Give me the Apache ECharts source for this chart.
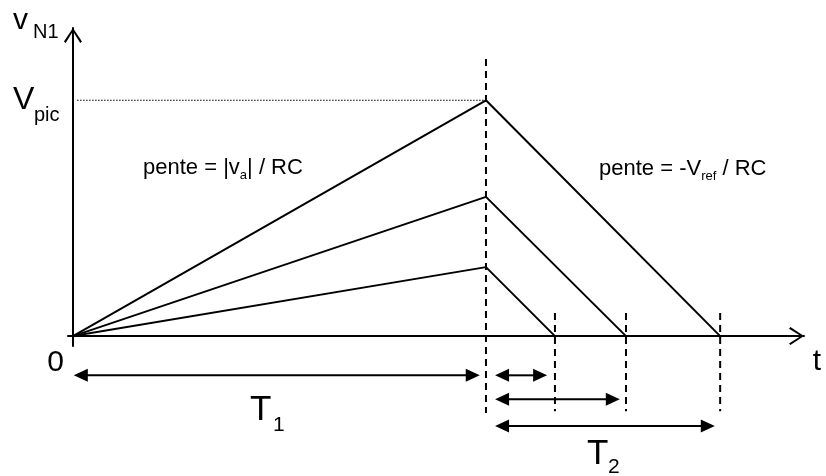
<!DOCTYPE html>
<html>
<head>
<meta charset="utf-8">
<title>v_N1 - double rampe</title>
<script src="https://cdn.jsdelivr.net/npm/echarts@6/dist/echarts.min.js"></script>
<style>
  html, body { margin: 0; padding: 0; background: #fff; }
  #doubleRamp { width: 826px; height: 476px; }
</style>
</head>
<body>
<div id="doubleRamp"></div>
<script>
// time unit: T1 = 10 (same scale on both axes, so the discharge slope is -1)
const T1 = 10;
const peakValues = [1.67, 3.37, 5.71];        // v_N1 reached at t = T1
const dischargeEnds = [11.67, 13.39, 15.67];  // t where v_N1 is back to 0
const vPic = 5.71;
const vPicGuideStart = 0.1;

// dashed guides [bottom, top]
const t1GuideSpan = [-1.86, 6.71];
const endGuideSpan = [-1.82, 0.56];

// double arrows under the time axis
const arrowFrom = [0.02, 10.22, 10.22, 10.22];
const arrowTo = [9.85, 11.48, 13.24, 15.54];
const arrowLevel = [-0.95, -0.95, -1.53, -2.18];

const FONT = "'Liberation Sans', Arial, sans-serif";
const openArrow =
  "path://M9,0 L18,13.6 L16.3,15 L9,3.2 L1.7,15 L0,13.6 Z M8,1 L10,1 L10,15 L8,15 Z";

const chartDom = document.getElementById("doubleRamp");
const chart = echarts.init(chartDom);

const axisCommon = {
  type: "value",
  axisLine: {
    show: true,
    onZero: true,
    symbol: ["none", openArrow],
    symbolSize: [18, 15],
    symbolOffset: [0, -7.5],
    lineStyle: { color: "#000", width: 2 },
  },
  axisTick: { show: false },
  axisLabel: { show: false },
  splitLine: { show: false },
};

const rampSeries = peakValues.map((peak, i) => ({
  type: "line",
  symbol: "none",
  silent: true,
  lineStyle: { color: "#000", width: 2 },
  data: [
    [0, 0],
    [T1, peak],
    [dischargeEnds[i], 0],
  ],
}));

const dashedGuide = (x, span) => ({
  type: "line",
  symbol: "none",
  silent: true,
  clip: false,
  lineStyle: { color: "#000", width: 2, type: [7, 5] },
  data: [
    [x, span[1]],
    [x, span[0]],
  ],
});

const text = (str, x, y, size, align) => ({
  type: "text",
  style: {
    x: x,
    y: y,
    text: str,
    fontSize: size,
    fontFamily: FONT,
    fill: "#000",
    align: align || "left",
    verticalAlign: "middle",
  },
});

const richText = (str, x, y, size, subSize) => ({
  type: "text",
  style: {
    x: x,
    y: y,
    text: str,
    fill: "#000",
    align: "left",
    verticalAlign: "bottom",
    rich: {
      m: { fontSize: size, fontFamily: FONT, fill: "#000", verticalAlign: "bottom", padding: [0, 0, 3, 0] },
      s: { fontSize: subSize, fontFamily: FONT, fill: "#000", verticalAlign: "bottom" },
    },
  },
});

const option = {
  animation: false,
  backgroundColor: "#fff",
  grid: { left: 68, right: 22, top: 28, bottom: 130 },
  xAxis: Object.assign({}, axisCommon, { min: -0.12, max: 17.7 }),
  yAxis: Object.assign({}, axisCommon, { min: -0.24, max: 7.46 }),
  series: [
    ...rampSeries,
    {
      type: "line",
      symbol: "none",
      silent: true,
      lineStyle: { color: "#000", width: 1.2, type: [1.5, 1.5] },
      data: [
        [vPicGuideStart, vPic],
        [T1, vPic],
      ],
    },
    dashedGuide(T1, t1GuideSpan),
    ...dischargeEnds.map((t) => dashedGuide(t, endGuideSpan)),
    {
      type: "custom",
      silent: true,
      clip: false,
      encode: { x: [0, 1], y: 2 },
      data: arrowFrom.map((x, i) => [x, arrowTo[i], arrowLevel[i]]),
      renderItem: function (params, api) {
        const a = api.coord([api.value(0), api.value(2)]);
        const b = api.coord([api.value(1), api.value(2)]);
        const len = 14;
        const half = 6.5;
        return {
          type: "group",
          children: [
            {
              type: "line",
              shape: { x1: a[0] + len - 1, y1: a[1], x2: b[0] - len + 1, y2: b[1] },
              style: { stroke: "#000", lineWidth: 2 },
            },
            {
              type: "polygon",
              shape: { points: [[a[0], a[1]], [a[0] + len, a[1] - half], [a[0] + len, a[1] + half]] },
              style: { fill: "#000" },
            },
            {
              type: "polygon",
              shape: { points: [[b[0], b[1]], [b[0] - len, b[1] - half], [b[0] - len, b[1] + half]] },
              style: { fill: "#000" },
            },
          ],
        };
      },
    },
  ],
  graphic: [
    text("v", 13, 21, 30),
    text("N1", 33, 32, 20),
    text("V", 13, 100, 32),
    text("pic", 34, 115, 20),
    text("0", 55.5, 362.5, 30, "center"),
    text("t", 817, 361.5, 30, "center"),
    text("T", 250, 410, 35),
    text("1", 273, 425, 21),
    text("T", 587, 454, 35),
    text("2", 608, 467, 21),
    richText("{m|pente = |v}{s|a}{m|| / RC}", 143, 182, 22, 13),
    richText("{m|pente = -V}{s|ref}{m| / RC}", 599, 183, 22, 13),
  ],
};

chart.setOption(option);

window.addEventListener("resize", () => {
  chart.resize();
});
</script>
</body>
</html>
